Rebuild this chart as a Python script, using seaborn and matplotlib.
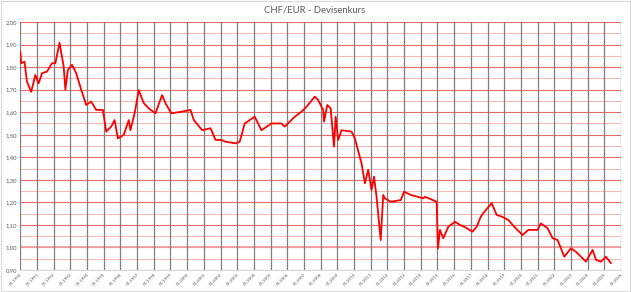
import matplotlib
matplotlib.use("Agg")
import matplotlib.pyplot as plt
import seaborn as sns
import pandas as pd
from matplotlib.patches import Rectangle

# ---- data (decimal year, CHF per EUR/ECU) ----
t = [1990.0, 1990.05, 1990.25, 1990.4, 1990.65, 1990.9, 1991.1, 1991.3, 1991.6, 1991.9,
     1992.1, 1992.35, 1992.6, 1992.7, 1992.85, 1993.1, 1993.35, 1993.65, 1993.95, 1994.25,
     1994.55, 1994.95, 1995.15, 1995.45, 1995.65, 1995.85, 1996.2, 1996.5, 1996.6, 1996.85,
     1997.1, 1997.4, 1997.7, 1998.1, 1998.5, 1998.7, 1999.05, 1999.65, 2000.2, 2000.4,
     2000.9, 2001.4, 2001.7, 2002.05, 2002.3, 2002.9, 2003.15, 2003.45, 2004.05, 2004.45,
     2005.05, 2005.65, 2005.85, 2006.45, 2006.85, 2007.15, 2007.65, 2007.85, 2008.15, 2008.2,
     2008.4, 2008.6, 2008.8, 2008.9, 2009.05, 2009.25, 2009.85, 2010.05, 2010.45, 2010.65,
     2010.85, 2011.05, 2011.2, 2011.35, 2011.6, 2011.75, 2011.85, 2012.2, 2012.8, 2013.0,
     2013.4, 2014.15, 2014.25, 2014.95, 2015.03, 2015.15, 2015.35, 2015.65, 2016.05, 2016.35,
     2016.6, 2017.1, 2017.35, 2017.6, 2017.9, 2018.25, 2018.55, 2018.85, 2019.25, 2019.6,
     2020.1, 2020.45, 2021.0, 2021.2, 2021.6, 2021.9, 2022.2, 2022.6, 2023.0, 2023.3,
     2023.9, 2024.3, 2024.5, 2024.8, 2025.1, 2025.4]
chf = [1.868, 1.817, 1.824, 1.735, 1.690, 1.765, 1.728, 1.773, 1.780, 1.817,
       1.817, 1.908, 1.802, 1.700, 1.787, 1.810, 1.773, 1.700, 1.632, 1.647,
       1.610, 1.610, 1.514, 1.536, 1.565, 1.484, 1.499, 1.565, 1.520, 1.595,
       1.698, 1.640, 1.617, 1.595, 1.676, 1.640, 1.595, 1.602, 1.610, 1.565,
       1.520, 1.529, 1.477, 1.477, 1.469, 1.462, 1.469, 1.550, 1.580, 1.520,
       1.550, 1.550, 1.536, 1.580, 1.602, 1.624, 1.669, 1.654, 1.610, 1.558,
       1.632, 1.617, 1.447, 1.580, 1.477, 1.520, 1.514, 1.484, 1.373, 1.285,
       1.344, 1.255, 1.314, 1.225, 1.033, 1.233, 1.218, 1.203, 1.210, 1.247,
       1.233, 1.218, 1.225, 1.203, 0.996, 1.078, 1.041, 1.092, 1.114, 1.100,
       1.092, 1.070, 1.092, 1.137, 1.166, 1.196, 1.144, 1.137, 1.122, 1.092,
       1.055, 1.078, 1.078, 1.107, 1.085, 1.041, 1.033, 0.959, 0.996, 0.981,
       0.937, 0.989, 0.945, 0.937, 0.959, 0.930]

years = list(range(1990, 2027))
x_labels = ["01." + str(y) for y in years]
y_ticks = [0.90, 1.00, 1.10, 1.20, 1.30, 1.40, 1.50, 1.60, 1.70, 1.80, 1.90, 2.00]
y_labels = ["0,90", "1,00", "1,10", "1,20", "1,30", "1,40", "1,50", "1,60", "1,70", "1,80", "1,90", "2,00"]
title = "CHF/EUR - Devisenkurs"

df = pd.DataFrame({"t": t, "chf": chf})

sns.set_style("white")
plt.rcParams["font.family"] = ["Lato", "DejaVu Sans"]

fig = plt.figure(figsize=(6.31, 2.92), dpi=100)
ax = fig.add_axes([20.3 / 631, 1 - 270 / 292, (621 - 20.3) / 631, (270 - 22) / 292])

# minor horizontal grid (0.05) light pink, major (0.1) red
for v in y_ticks[:-1]:
    ax.axhline(v + 0.05, color="#f7b7b7", lw=0.8, zorder=1)
for v in y_ticks:
    ax.axhline(v, color="#e86a6a", lw=0.8, zorder=1)
ax.axhline(1.00, color="#f5a0a0", lw=1.3, zorder=1)
for y in years:
    ax.axvline(y, color="#7f7f7f", lw=0.9, zorder=1)

sns.lineplot(data=df, x="t", y="chf", ax=ax, color="#ff0000", lw=1.3, zorder=3)

ax.set_xlim(1990, 2026)
ax.set_ylim(0.90, 2.00)
ax.set_xticks(years)
ax.set_xticklabels(x_labels, rotation=45, ha="right", rotation_mode="anchor",
                   fontsize=3.2, color="#595959")
ax.set_yticks(y_ticks)
ax.set_yticklabels(y_labels, fontsize=4.2, color="#595959")
ax.tick_params(axis="both", length=0, pad=2)
ax.set_xlabel("")
ax.set_ylabel("")
for s in ["top", "right", "left"]:
    ax.spines[s].set_visible(False)
ax.spines["bottom"].set_color("#d9d9d9")
ax.spines["bottom"].set_linewidth(0.8)

fig.text(315 / 631, 1 - 10 / 292, title, ha="center", va="center",
         fontsize=6.8, color="#595959")

fig.patches.append(Rectangle((0.001, 0.002), 0.997, 0.995, transform=fig.transFigure,
                             fill=False, edgecolor="#d9d9d9", lw=0.8))

fig.savefig("out.png", dpi=100)
